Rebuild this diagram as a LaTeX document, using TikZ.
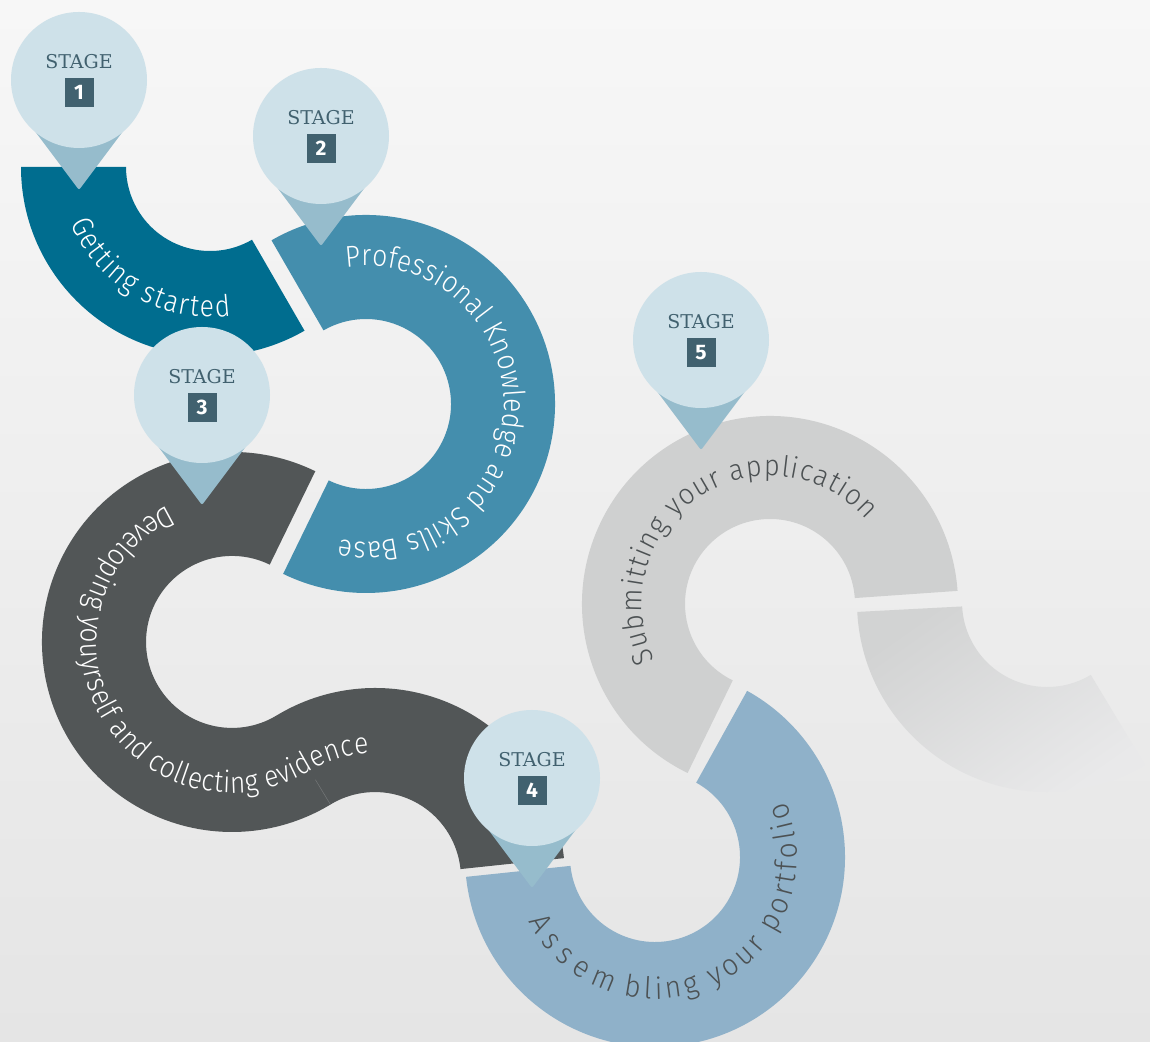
\documentclass[tikz,border=0pt]{standalone}
\usepackage{fontspec}
\usetikzlibrary{calc,decorations.text}
\newfontfamily\bandfont[FakeStretch=0.88]{Fira Sans Light}
\newfontfamily\darkbandfont[FakeStretch=0.94]{Fira Sans Light}
\newfontfamily\numfont{Fira Sans}
\newfontfamily\stagefont{DejaVu Serif}

\definecolor{bgtop}{HTML}{F7F7F7}
\definecolor{bgbot}{HTML}{E5E5E5}
\definecolor{segone}{HTML}{006D8F}
\definecolor{segtwo}{HTML}{448EAD}
\definecolor{segthree}{HTML}{525657}
\definecolor{segfour}{HTML}{8FB1C9}
\definecolor{segfive}{HTML}{CFD0D0}
\definecolor{fadeA}{HTML}{D2D3D3}
\definecolor{fadeB}{HTML}{E9E9EA}
\definecolor{pinhead}{HTML}{CEE1E9}
\definecolor{pintip}{HTML}{96BCCC}
\definecolor{slate}{HTML}{41616F}
\definecolor{darktext}{HTML}{4C5153}

\tikzset{
  pinheadfill/.style={fill=pinhead},
  pintipfill/.style={fill=pintip, rounded corners=2pt},
  stagelabel/.style={text=slate, inner sep=0pt, font=\stagefont\fontsize{19}{19}\selectfont},
  stagenum/.style={fill=slate, text=white, minimum size=29pt, inner sep=0pt,
    font=\numfont\bfseries\fontsize{21}{21}\selectfont},
  seamline/.style={draw=segthree!80!white, line width=0.5pt}
}

% map pin: darker pointer, light round head, label and number box
\newcommand{\stagepin}[3]{%
  \begin{scope}[shift={#2}]
    \fill[pintipfill] (0,-110) -- (-54,-38) -- (54,-38) -- cycle;
    \fill[pinheadfill] (0,0) circle[radius=68];
    \node[stagelabel] (#1-label) at (0,18) {STAGE};
    \node[stagenum] (#1-num) at (0,-12.5) {#3};
  \end{scope}}

\begin{document}
\begin{tikzpicture}[x=1pt,y=1pt]
  % background
  \shade[top color=bgtop, bottom color=bgbot] (0,0) rectangle (1150,1041);
  \useasboundingbox (0,0) rectangle (1150,1041);

  % arc centres
  \coordinate (c1) at (210,874);
  \coordinate (c2) at (366,637);
  \coordinate (c3) at (232,399);
  \coordinate (c3b) at (375,163);
  \coordinate (c4) at (655,184);
  \coordinate (c5) at (770,437);
  \coordinate (c6) at (1047,439);

  % stage 1 band
  \fill[segone] ($(c1)+(180:189)$) arc[start angle=180,end angle=300,radius=189]
    -- ($(c1)+(300:84)$) arc[start angle=300,end angle=180,radius=84] -- cycle;
  \path[decorate, decoration={text along path, text align=fit to path, text color=white,
      text={|\bandfont\fontsize{30}{30}\selectfont|Getting started}}]
    ($(c1)+(202:150)$) arc[start angle=202,end angle=278,radius=150];

  % stage 2 band
  \fill[segtwo] ($(c2)+(120:189)$) arc[start angle=120,end angle=-116,radius=189]
    -- ($(c2)+(-116:85)$) arc[start angle=-116,end angle=120,radius=85] -- cycle;
  \path[decorate, decoration={text along path, text align=fit to path, text color=white,
      text={|\bandfont\fontsize{30}{30}\selectfont|Professional Knowledge and Skills Base}}]
    ($(c2)+(98.3:138)$) arc[start angle=98.3,end angle=-101,radius=138];

  % stage 3 band (S-bend)
  \fill[segthree] ($(c3)+(64:190)$) arc[start angle=64,end angle=301.2,radius=190]
    arc[start angle=121.2,end angle=6,radius=86]
    -- ($(c3b)+(6:190)$) arc[start angle=6,end angle=121.2,radius=190]
    arc[start angle=301.2,end angle=64,radius=86] -- cycle;
  \draw[seamline] ($(c3)+(301.2:161)$) -- ($(c3)+(301.2:190)$);
  \path[decorate, decoration={text along path, text align=fit to path, text color=white,
      text={|\bandfont\fontsize{30}{30}\selectfont|Developing youyrself and collecting evidence}}]
    ($(c3)+(115.2:151)$) arc[start angle=115.2,end angle=301.2,radius=151]
    arc[start angle=121.2,end angle=92.7,radius=125];

  % stage 4 band
  \fill[segfour] ($(c4)+(186:190)$) arc[start angle=186,end angle=421,radius=190]
    -- ($(c4)+(421:85)$) arc[start angle=421,end angle=186,radius=85] -- cycle;
  \path[decorate, decoration={text along path, text align=fit to path, text color=darktext,
      text={|\darkbandfont\fontsize{30}{30}\selectfont|Assem}}]
    ($(c4)+(207:142)$) arc[start angle=207,end angle=252.4,radius=142];
  \path[decorate, decoration={text along path, text align=fit to path, text color=darktext,
      text={|\darkbandfont\fontsize{30}{30}\selectfont|bling your portfolio}}]
    ($(c4)+(257.3:142)$) arc[start angle=257.3,end angle=383,radius=142];

  % stage 5 band
  \fill[segfive] ($(c5)+(244:188)$) arc[start angle=244,end angle=4,radius=188]
    -- ($(c5)+(4:85)$) arc[start angle=4,end angle=244,radius=85] -- cycle;
  \path[decorate, decoration={text along path, text align=fit to path, text color=darktext,
      text={|\darkbandfont\fontsize{29}{29}\selectfont|Submitting your application}}]
    ($(c5)+(206:128)$) arc[start angle=206,end angle=41,radius=128];

  % fading continuation
  \shade[left color=fadeA, right color=fadeB, shading angle=35]
    ($(c6)+(183:190)$) arc[start angle=183,end angle=301,radius=190]
    -- ($(c6)+(301:85)$) arc[start angle=301,end angle=183,radius=85] -- cycle;

  % stage pins
  \stagepin{pinone}{(79,961)}{1}
  \stagepin{pintwo}{(321,905)}{2}
  \stagepin{pinthree}{(202,646)}{3}
  \stagepin{pinfour}{(532,263)}{4}
  \stagepin{pinfive}{(701,701)}{5}
\end{tikzpicture}
\end{document}
